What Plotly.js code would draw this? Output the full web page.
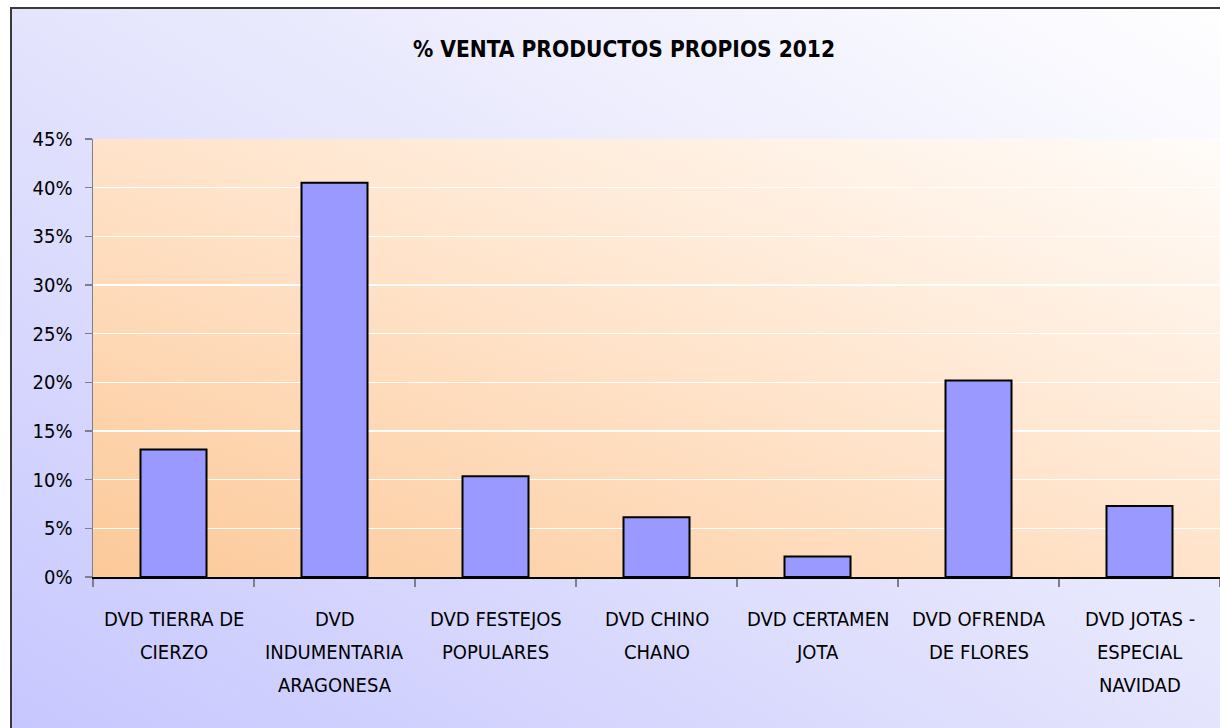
<!DOCTYPE html>
<html>
<head>
<meta charset="utf-8">
<script src="https://cdn.plot.ly/plotly-3.0.1.min.js"></script>
<style>
  html, body { margin: 0; padding: 0; width: 1220px; height: 728px; overflow: hidden; background: #ffffff; }
  #frame { position: absolute; left: 10px; top: 7px; width: 1240px; height: 740px;
           border-left: 2px solid #3a3a3a; border-top: 2px solid #3a3a3a;
           background: linear-gradient(to top right, #C6C6FF 0%, #E4E4FD 50%, #FFFFFF 100%); }
  #chart { position: absolute; left: 0; top: 0; width: 1220px; height: 728px; }
</style>
</head>
<body>
<div id="frame"></div>
<div id="chart"></div>
<script>
// ---- data ----
const chartTitle = "% VENTA PRODUCTOS PROPIOS 2012";
const categories = [
  "DVD TIERRA DE CIERZO",
  "DVD INDUMENTARIA ARAGONESA",
  "DVD FESTEJOS POPULARES",
  "DVD CHINO CHANO",
  "DVD CERTAMEN JOTA",
  "DVD OFRENDA DE FLORES",
  "DVD JOTAS - ESPECIAL NAVIDAD"
];
const labelLines = [
  ["DVD TIERRA DE", "CIERZO"],
  ["DVD", "INDUMENTARIA", "ARAGONESA"],
  ["DVD FESTEJOS", "POPULARES"],
  ["DVD CHINO", "CHANO"],
  ["DVD CERTAMEN", "JOTA"],
  ["DVD OFRENDA", "DE FLORES"],
  ["DVD JOTAS -", "ESPECIAL", "NAVIDAD"]
];
const salesPct = [13.1, 40.5, 10.35, 6.15, 2.1, 20.2, 7.3];
const yTickVals = [0, 5, 10, 15, 20, 25, 30, 35, 40, 45];
const yTickText = ["0%", "5%", "10%", "15%", "20%", "25%", "30%", "35%", "40%", "45%"];

// ---- styling ----
const FONT = "'DejaVu Sans Condensed', 'DejaVu Sans', sans-serif";

const plotGradient = 'data:image/svg+xml;utf8,' + encodeURIComponent(
  '<svg xmlns="http://www.w3.org/2000/svg" width="100" height="100" viewBox="0 0 100 100" preserveAspectRatio="none">' +
  '<defs><linearGradient id="g" x1="0" y1="1" x2="1" y2="0">' +
  '<stop offset="0" stop-color="#FCC999"/>' +
  '<stop offset="0.5" stop-color="#FFE3CA"/>' +
  '<stop offset="1" stop-color="#FFFCF9"/>' +
  '</linearGradient></defs><rect width="100" height="100" fill="url(#g)"/></svg>');

const annotations = [];
labelLines.forEach((lines, i) => {
  lines.forEach((line, j) => {
    annotations.push({
      text: line, x: categories[i], xref: 'x', y: 0, yref: 'paper',
      xanchor: 'center', yanchor: 'middle', yshift: -(42 + 33 * j),
      showarrow: false, font: { family: FONT, size: 20, color: '#000000' }
    });
  });
});

const trace = {
  type: 'bar', x: categories, y: salesPct, width: 0.41,
  marker: { color: '#9999FF', line: { color: '#000000', width: 2 } },
  hoverinfo: 'x+y'
};

const layout = {
  width: 1220, height: 728,
  margin: { l: 93, r: 0, t: 139, b: 151, pad: 0 },
  paper_bgcolor: 'rgba(0,0,0,0)',
  plot_bgcolor: 'rgba(0,0,0,0)',
  showlegend: false,
  title: {
    text: '<b>' + chartTitle + '</b>',
    xref: 'container', x: 0.5115, xanchor: 'center',
    yref: 'container', y: 1 - 49 / 728, yanchor: 'middle',
    font: { family: FONT, size: 22.5, color: '#000000' }
  },
  xaxis: {
    type: 'category', showticklabels: false, showgrid: false, zeroline: false,
    showline: true, linecolor: '#000000', linewidth: 1.5,
    ticks: 'outside', tickson: 'boundaries', ticklen: 8, tickwidth: 2, tickcolor: '#7f7f8c',
    range: [-0.5, 6.5], fixedrange: true
  },
  yaxis: {
    range: [0, 45], tickmode: 'array', tickvals: yTickVals, ticktext: yTickText,
    showgrid: true, gridcolor: '#FFFFFF', gridwidth: 1.2,
    zeroline: false, showline: true, linecolor: '#7f7f8c', linewidth: 1.5,
    ticks: 'outside', ticklen: 7, tickwidth: 1.5, tickcolor: '#7f7f8c',
    ticklabelstandoff: 8,
    tickfont: { family: FONT, size: 20, color: '#000000' }, fixedrange: true
  },
  images: [{
    source: plotGradient, xref: 'paper', yref: 'paper', x: 0, y: 1,
    sizex: 1, sizey: 1, sizing: 'stretch', xanchor: 'left', yanchor: 'top', layer: 'below'
  }],
  annotations: annotations
};

Plotly.newPlot('chart', [trace], layout, { displayModeBar: false, staticPlot: true });
</script>
</body>
</html>
